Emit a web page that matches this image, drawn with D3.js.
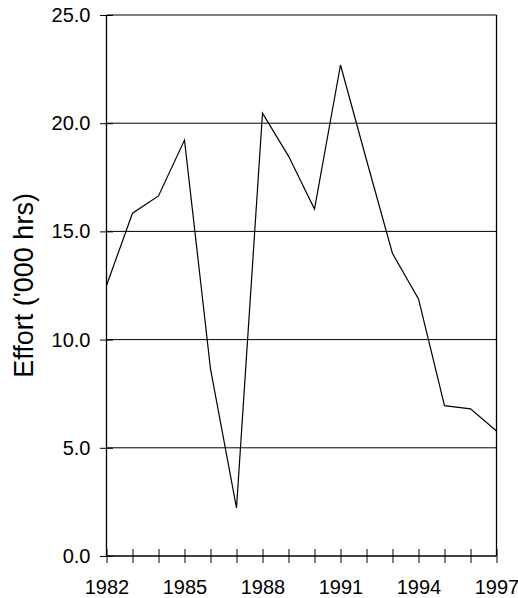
<!DOCTYPE html>
<html><head><meta charset="utf-8">
<script src="https://cdn.jsdelivr.net/npm/d3@7"></script>
<style>body{margin:0;background:#fff}svg{display:block}text{font-family:"Liberation Sans",Arial,sans-serif;fill:#000}</style>
</head><body><svg id="c" width="518" height="598"></svg>
<script>
const years = [1982,1983,1984,1985,1986,1987,1988,1989,1990,1991,1992,1993,1994,1995,1996,1997];
const effort = [12.5,15.84,16.64,19.22,8.65,2.22,20.46,18.48,16.03,22.69,18.3,13.98,11.88,6.95,6.8,5.78];
const yTicks = [0,5,10,15,20,25];
const xLabels = [1982,1985,1988,1991,1994,1997];
const yLabel = "Effort ('000 hrs)";

const svg = d3.select("#c");
const m = {l:106.5, r:496.5, t:15, b:556};
const x = d3.scaleLinear().domain([1982,1997]).range([m.l,m.r]);
const y = d3.scaleLinear().domain([0,25]).range([m.b,m.t]);

// gridlines
svg.append("g").selectAll("line").data(yTicks.filter(d=>d>0)).join("line")
  .attr("x1",m.l).attr("x2",m.r).attr("y1",d=>y(d)).attr("y2",d=>y(d))
  .attr("stroke","#000").attr("stroke-width",1);
// right border
svg.append("line").attr("x1",m.r).attr("x2",m.r).attr("y1",m.t).attr("y2",m.b).attr("stroke","#000").attr("stroke-width",1.3);

// y axis
const ya = svg.append("g").attr("transform",`translate(${m.l},0)`)
  .call(d3.axisLeft(y).tickValues(yTicks).tickFormat(d3.format(".1f")).tickSize(6.5).tickPadding(9.5));
ya.select(".domain").attr("stroke-width",1.3).attr("d",`M0,${m.t}V${m.b}`);
ya.selectAll(".tick line").attr("x2",-6.5).attr("x1",6.5);
ya.selectAll("text").style("font-size","20px").attr("font-family",null);

// x axis
const xa = svg.append("g").attr("transform",`translate(0,${m.b})`)
  .call(d3.axisBottom(x).tickValues(years).tickFormat(d=>xLabels.includes(d)?String(d):"").tickSize(7).tickPadding(17));
xa.select(".domain").attr("stroke-width",1.3).attr("d",`M${m.l},0H${m.r}`);
xa.selectAll(".tick line").attr("y1",-7).attr("y2",7);
xa.selectAll("text").style("font-size","20px").attr("font-family",null);

// line
svg.append("path").datum(years.map((yr,i)=>[yr,effort[i]]))
  .attr("fill","none").attr("stroke","#000").attr("stroke-width",1.2)
  .attr("d",d3.line().x(d=>x(d[0])).y(d=>y(d[1])));

svg.append("text").attr("transform",`translate(33,${(m.t+m.b)/2}) rotate(-90)`)
  .attr("text-anchor","middle").style("font-size","27px").text(yLabel);
</script></body></html>
